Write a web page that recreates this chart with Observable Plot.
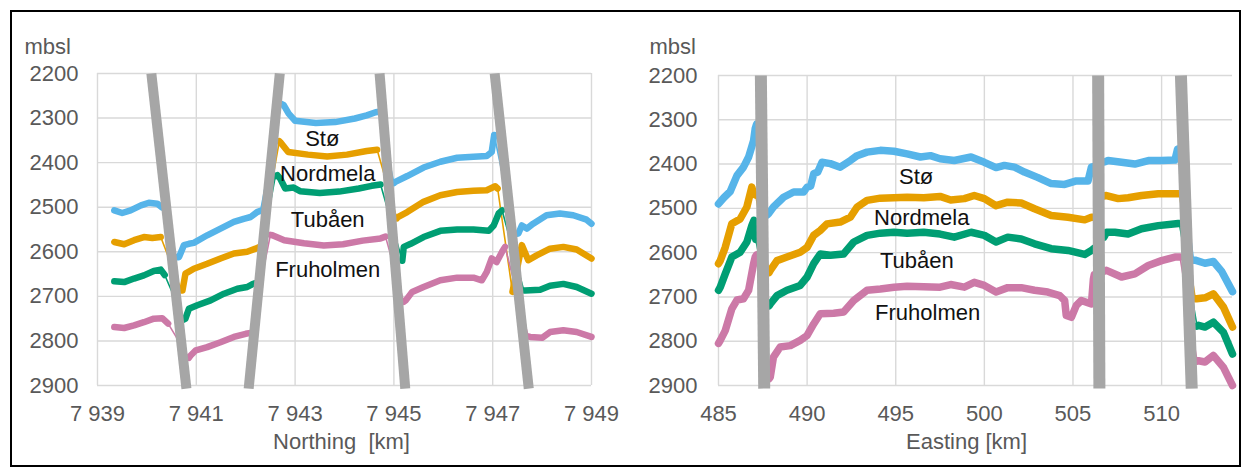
<!DOCTYPE html>
<html><head><meta charset="utf-8">
<script src="https://cdn.jsdelivr.net/npm/d3@7"></script>
<script src="https://cdn.jsdelivr.net/npm/@observablehq/plot@0.6"></script>
<style>
html,body{margin:0;padding:0;background:#fff;}
#wrap{position:relative;width:1249px;height:471px;overflow:hidden;}
#left{position:absolute;left:0;top:0;}
#right{position:absolute;left:620px;top:0;}
#frame{position:absolute;left:10px;top:10px;width:1231px;height:457px;border:2px solid #000;box-sizing:border-box;pointer-events:none;}
</style></head><body>
<div id="wrap"><div id="left"></div><div id="right"></div><div id="frame"></div></div>
<script>
// ---------- shared ----------
const seriesNames = ["Stø", "Nordmela", "Tubåen", "Fruholmen"];
const seriesColors = ["#56B4E9", "#E69F00", "#009E73", "#CC79A7"];
const yTicks = [2200, 2300, 2400, 2500, 2600, 2700, 2800, 2900];
const yDomain = [2200, 2900];
const yTitle = "mbsl";
const faultDepthRange = [2200, 2907];

// ---------- left panel (Northing) ----------
const xDomainLeft = [7939, 7949];
const xTicksLeft = [7939, 7941, 7943, 7945, 7947, 7949];
const xTickLabelsLeft = ["7 939", "7 941", "7 943", "7 945", "7 947", "7 949"];
const xTitleLeft = "Northing  [km]";
const faultTopLeft = [7940.09, 7942.69, 7944.71, 7947.04];
const faultBottomLeft = [7940.80, 7942.06, 7945.23, 7947.73];
const labelXLeft = [7943.55, 7943.66, 7943.66, 7943.66];
const labelYLeft = [2347, 2425, 2529, 2641];

const stoLeft = [
  [7939.34,2507],[7939.5,2513],[7939.67,2507],[7939.88,2496],[7940.04,2490],[7940.21,2492],[7940.3,2500],
  null,
  [7940.6,2612],[7940.65,2612],[7940.75,2585],[7940.85,2582],[7940.95,2580],[7941.22,2563],[7941.49,2548],[7941.76,2533],[7941.96,2526],[7942.1,2522],[7942.23,2511],[7942.3,2508],
  null,
  [7942.72,2268],[7942.77,2271],[7942.87,2290],[7943.0,2306],[7943.42,2311],[7943.81,2309],[7944.21,2301],[7944.45,2294],[7944.63,2287],[7944.7,2286],
  null,
  [7945.0,2446],[7945.03,2443],[7945.27,2430],[7945.6,2411],[7945.94,2398],[7946.28,2389],[7946.61,2387],[7946.88,2385],[7946.98,2376],[7947.03,2338],
  null,
  [7947.45,2560],[7947.52,2559],[7947.59,2541],[7947.69,2548],[7947.82,2537],[7948.09,2518],[7948.36,2514],[7948.63,2518],[7948.9,2528],[7949,2537]
];
const nordLeft = [
  [7939.34,2578],[7939.54,2583],[7939.74,2574],[7939.94,2567],[7940.11,2569],[7940.28,2567],
  null,
  [7940.7,2687],[7940.72,2687],[7940.78,2649],[7940.95,2638],[7941.22,2627],[7941.49,2615],[7941.76,2604],[7942.03,2600],[7942.2,2593],[7942.3,2588],
  null,
  [7942.68,2352],[7942.7,2354],[7942.86,2376],[7943.26,2382],[7943.65,2386],[7944.05,2382],[7944.45,2374],[7944.66,2371],
  null,
  [7945.06,2525],[7945.08,2522],[7945.27,2511],[7945.6,2488],[7945.94,2473],[7946.28,2466],[7946.61,2463],[7946.88,2462],[7947.05,2453],[7947.1,2458],
  null,
  [7947.4,2690],[7947.59,2585],[7947.72,2619],[7947.89,2608],[7948.16,2593],[7948.43,2589],[7948.7,2595],[7949,2615]
];
const tubLeft = [
  [7939.34,2666],[7939.54,2668],[7939.74,2660],[7939.94,2653],[7940.14,2643],[7940.28,2640],[7940.36,2652],
  null,
  [7940.75,2752],[7940.78,2750],[7940.85,2728],[7941.02,2720],[7941.29,2709],[7941.56,2694],[7941.83,2683],[7942.03,2679],[7942.13,2673],[7942.2,2670],
  null,
  [7942.6,2430],[7942.64,2428],[7942.7,2436],[7942.8,2458],[7942.97,2456],[7943.1,2464],[7943.5,2468],[7943.89,2465],[7944.29,2458],[7944.55,2452],[7944.73,2449],
  null,
  [7945.17,2620],[7945.2,2589],[7945.34,2582],[7945.6,2567],[7945.94,2553],[7946.28,2550],[7946.61,2550],[7946.92,2553],[7947.02,2541],[7947.12,2514],[7947.19,2507],
  null,
  [7947.63,2687],[7947.66,2687],[7947.96,2685],[7948.16,2676],[7948.43,2672],[7948.7,2679],[7949,2694]
];
const fruLeft = [
  [7939.34,2769],[7939.54,2771],[7939.74,2765],[7939.94,2758],[7940.14,2750],[7940.31,2749],[7940.43,2761],
  null,
  [7940.85,2838],[7940.89,2832],[7940.99,2821],[7941.22,2814],[7941.49,2803],[7941.76,2791],[7942.0,2784],[7942.1,2782],
  null,
  [7942.5,2562],[7942.54,2563],[7942.78,2574],[7943.18,2581],[7943.58,2586],[7943.97,2583],[7944.37,2575],[7944.73,2570],[7944.83,2566],
  null,
  [7945.2,2712],[7945.24,2709],[7945.37,2690],[7945.6,2679],[7945.94,2664],[7946.28,2658],[7946.61,2658],[7946.78,2664],[7946.88,2645],[7946.98,2615],[7947.08,2623],[7947.19,2600],[7947.25,2589],
  null,
  [7947.72,2790],[7947.76,2791],[7948.0,2793],[7948.16,2780],[7948.43,2776],[7948.7,2780],[7949,2791]
];

// ---------- right panel (Easting) ----------
const xDomainRight = [485, 514];
const xTicksRight = [485, 490, 495, 500, 505, 510];
const xTickLabelsRight = ["485", "490", "495", "500", "505", "510"];
const xTitleRight = "Easting [km]";
const faultTopRight = [487.39, 506.42, 511.09];
const faultBottomRight = [487.58, 506.49, 511.70];
const labelXRight = [496.15, 496.47, 496.19, 496.8];
const labelYRight = [2430, 2521, 2618, 2737];

const stoRight = [
  [485.0,2490],[485.3,2476],[485.66,2462],[486.04,2426],[486.41,2407],[486.7,2384],[486.98,2347],[487.07,2320],[487.15,2310],
  null,
  [487.75,2515],[487.82,2512],[488.1,2497],[488.67,2475],[489.24,2463],[489.8,2463],[490.0,2452],[490.2,2450],[490.37,2422],[490.6,2418],[490.84,2396],[491.31,2399],[491.87,2407],[492.44,2392],[492.82,2381],[493.38,2373],[494.13,2369],[494.9,2371],[495.64,2377],[496.39,2384],[496.96,2381],[497.5,2388],[498.3,2392],[499.25,2384],[500.0,2396],[500.66,2408],[501.13,2403],[501.7,2407],[502.26,2418],[503.0,2430],[503.77,2444],[504.53,2446],[505.19,2438],[505.85,2438],[506.04,2407],[506.2,2405],
  null,
  [506.8,2395],[506.98,2392],[507.74,2396],[508.49,2400],[509.25,2392],[510.0,2392],[510.75,2391],[510.9,2366],[511.0,2365],
  null,
  [511.8,2617],[511.89,2617],[512.45,2624],[512.92,2620],[513.4,2643],[514.0,2688]
];
const nordRight = [
  [485.0,2625],[485.1,2618],[485.38,2588],[485.75,2535],[486.22,2524],[486.6,2497],[486.88,2452],[486.98,2467],[487.1,2470],
  null,
  [487.85,2645],[487.92,2640],[488.3,2618],[488.86,2610],[489.61,2599],[490.0,2588],[490.37,2561],[490.74,2550],[491.12,2535],[491.87,2531],[492.44,2520],[492.82,2497],[493.38,2482],[494.13,2477],[494.9,2476],[495.64,2475],[496.58,2476],[497.5,2473],[498.1,2481],[498.87,2478],[499.43,2471],[500.0,2478],[500.66,2494],[501.32,2486],[502.08,2488],[502.83,2501],[503.77,2516],[504.72,2520],[505.66,2526],[506.04,2520],[506.2,2520],
  null,
  [506.75,2472],[506.89,2471],[507.55,2478],[508.11,2476],[508.87,2471],[509.81,2467],[510.94,2467],[511.0,2467],
  null,
  [511.9,2704],[511.98,2704],[512.45,2702],[512.92,2693],[513.49,2723],[514.0,2768]
];
const tubRight = [
  [485.0,2685],[485.1,2678],[485.38,2648],[485.75,2610],[486.22,2599],[486.6,2576],[486.88,2539],[487.0,2527],[487.05,2560],[487.1,2570],
  null,
  [487.85,2720],[487.92,2716],[488.3,2697],[488.86,2685],[489.61,2674],[490.0,2655],[490.37,2625],[490.74,2603],[491.31,2606],[492.06,2603],[492.63,2576],[493.38,2561],[494.13,2556],[494.9,2554],[495.64,2556],[496.58,2554],[497.5,2558],[498.3,2565],[499.25,2554],[500.0,2561],[500.66,2576],[501.32,2565],[502.08,2569],[502.83,2580],[503.77,2591],[504.72,2595],[505.66,2604],[506.04,2595],[506.2,2590],
  null,
  [506.75,2565],[506.89,2554],[507.36,2554],[508.11,2558],[508.87,2546],[509.81,2539],[510.94,2534],[511.0,2534],
  null,
  [512.0,2766],[512.08,2764],[512.45,2768],[512.92,2757],[513.49,2780],[514.0,2829]
];
const fruRight = [
  [485.0,2805],[485.1,2798],[485.38,2776],[485.75,2727],[486.04,2707],[486.41,2704],[486.7,2685],[486.98,2625],[487.07,2610],[487.15,2605],
  null,
  [487.85,2885],[487.92,2881],[488.1,2836],[488.48,2813],[489.05,2810],[489.61,2798],[490.0,2787],[490.37,2761],[490.74,2738],[491.5,2737],[492.06,2734],[492.63,2708],[493.38,2685],[494.13,2682],[494.9,2678],[495.64,2676],[496.58,2677],[497.5,2678],[498.1,2672],[498.87,2678],[499.43,2667],[500.0,2674],[500.66,2689],[501.32,2679],[502.08,2679],[502.83,2685],[503.58,2689],[504.25,2697],[504.53,2708],[504.62,2742],[504.91,2746],[505.19,2719],[505.47,2708],[506.04,2716],[506.15,2660],[506.2,2650],
  null,
  [506.75,2642],[506.89,2640],[507.74,2655],[508.49,2648],[509.25,2629],[510.0,2618],[510.75,2610],[511.04,2610],
  null,
  [512.0,2845],[512.08,2844],[512.45,2847],[512.92,2832],[513.49,2859],[514.0,2900]
];

// ---------- drawing ----------
const gridColor = "#d9d9d9";
const textGray = "#595959";
const font = "'Liberation Sans', Arial, sans-serif";

function toRows(points) {
  return points.map(p => p ? {x: p[0], y: p[1]} : {x: NaN, y: NaN});
}

function panel(cfg) {
  const marks = [
    Plot.gridY(yTicks, {stroke: gridColor, strokeOpacity: 1, strokeWidth: 1.4}),
    Plot.gridX(cfg.xTicks, {stroke: gridColor, strokeOpacity: 1, strokeWidth: 1.4}),
    Plot.axisY(yTicks, {tickSize: 0, tickPadding: cfg.yPad, label: null, tickFormat: d => String(d), fill: textGray}),
    Plot.axisX(cfg.xTicks, {tickSize: 0, tickPadding: 20, label: null, tickFormat: (d) => cfg.xLabels[cfg.xTicks.indexOf(d)], fill: textGray}),
    Plot.text([yTitle], {frameAnchor: "top-left", dx: cfg.yTitleDx, dy: cfg.yTitleDy, textAnchor: "start", text: d => d, fill: textGray}),
    Plot.text([cfg.xTitle], {frameAnchor: "bottom", dx: cfg.xTitleDx, dy: 63, text: d => d, fill: textGray})
  ];
  cfg.series.forEach((pts, i) => {
    const rows = toRows(pts);
    marks.push(Plot.line(rows.filter(r => !isNaN(r.x)), {x: "x", y: "y", stroke: seriesColors[i], strokeWidth: 1.6}));
    marks.push(Plot.line(rows, {x: "x", y: "y", stroke: seriesColors[i], strokeWidth: cfg.lineWidth, strokeLinejoin: "round", strokeLinecap: "round"}));
  });
  const faults = cfg.faultTop.map((t, i) => ({t, b: cfg.faultBottom[i]}));
  marks.push(Plot.link(faults, {x1: "t", x2: "b", y1: () => faultDepthRange[0], y2: () => faultDepthRange[1], stroke: "#a6a6a6", strokeWidth: cfg.faultWidth}));
  marks.push(Plot.text(seriesNames, {x: (d, i) => cfg.labelX[i], y: (d, i) => cfg.labelY[i], text: d => d, fill: "#111", fontSize: 22}));
  return Plot.plot({
    width: cfg.width, height: cfg.height,
    marginLeft: cfg.mL, marginRight: cfg.mR, marginTop: cfg.mT, marginBottom: cfg.mB,
    x: {domain: cfg.xDomain},
    y: {domain: yDomain, reverse: true},
    style: {fontFamily: font, fontSize: "22px", background: "transparent", overflow: "visible", whiteSpace: "pre"},
    marks
  });
}

document.getElementById("left").appendChild(panel({
  width: 620, height: 471, mL: 97, mR: 29, mT: 73, mB: 86,
  xDomain: xDomainLeft, xTicks: xTicksLeft, xLabels: xTickLabelsLeft, xTitle: xTitleLeft, xTitleDx: -3,
  yPad: 19, yTitleDx: -73, yTitleDy: -35,
  faultTop: faultTopLeft, faultBottom: faultBottomLeft, faultWidth: 10, lineWidth: 6.5,
  series: [stoLeft, nordLeft, tubLeft, fruLeft], labelX: labelXLeft, labelY: labelYLeft
}));
document.getElementById("right").appendChild(panel({
  width: 629, height: 471, mL: 98, mR: 17, mT: 75, mB: 86,
  xDomain: xDomainRight, xTicks: xTicksRight, xLabels: xTickLabelsRight, xTitle: xTitleRight, xTitleDx: -9,
  yPad: 21, yTitleDx: -69, yTitleDy: -37,
  faultTop: faultTopRight, faultBottom: faultBottomRight, faultWidth: 12, lineWidth: 7.5,
  series: [stoRight, nordRight, tubRight, fruRight], labelX: labelXRight, labelY: labelYRight
}));
</script>
</body></html>
